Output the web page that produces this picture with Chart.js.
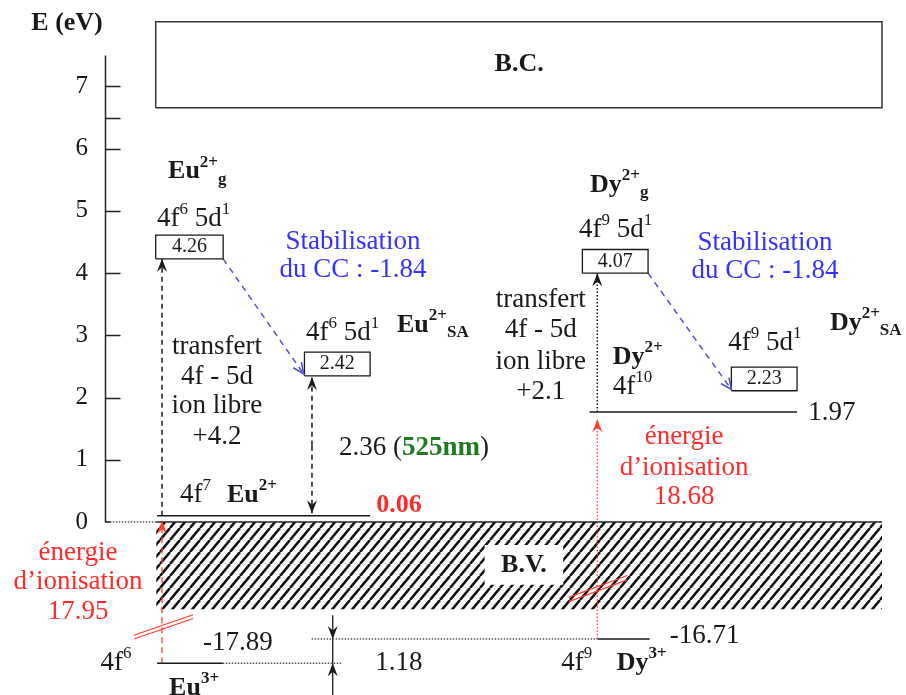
<!DOCTYPE html>
<html>
<head>
<meta charset="utf-8">
<style>
  html, body { margin: 0; padding: 0; background: #fff; }
  #wrap { width: 906px; height: 695px; position: relative; }
</style>
</head>
<body>
<div id="wrap"><canvas id="diagram"></canvas></div>
<script src="https://cdn.jsdelivr.net/npm/chart.js@4.4.1/dist/chart.umd.min.js"></script>
<script>
// energy axis (eV)
const energyTicks = [0, 1, 2, 3, 4, 5, 6, 7];
const minorTicks = [6.5];
const axisTop = 7.5;
const yRange = [-2.78, 8.39];

// levels as placed on the diagram (eV) and the values printed next to them
// index 0 = Eu, index 1 = Dy
const freeIon5d = [4.23, 4.0];
const freeIon5dText = ["4.26", "4.07"];
const site5d = [2.35, 2.11];
const site5dText = ["2.42", "2.23"];
const ground2 = [0.1, 1.77];
const ground2Text = ["0.06", "1.97"];
const ground3 = [-2.27, -1.88];      // broken scale below the valence band
const ground3Text = ["-17.89", "-16.71"];
const gap3Text = "1.18";
const transferText = ["+4.2", "+2.1"];
const ionisationText = ["17.95", "18.68"];
const stabilisationText = ["-1.84", "-1.84"];
const emissionText = ["2.36", "525nm"];
const fConfig = [6, 9];              // 4f^n of R2+ excited / R3+
const cbBand = [6.66, 8.04];
const vbBand = [-1.4, 0];

// ---- layout (x runs 0..100 across the plot) ----
const bandX = [6.4, 97];
const zeroX = 6.5;
const gBoxX = [[6.33, 14.75], [59.6, 67.8]];
const saBoxX = [[24.9, 33.1], [78.2, 86.4]];
const groundX = [[6.5, 33.1], [60.5, 86.4]];
const transferX = [7.12, 61.46];
const emissionX = 25.84;
const gapX = 28.43;
const boxH = 0.38;
const bvBoxX = [47.4, 57.2];
const bvBoxY = [-1.01, -0.37];

const SERIF = "'Liberation Serif', 'Times New Roman', serif";
const ink = "#1a1a1a";
const blue = "#3333ff";
const blueArrow = "#5252d6";
const red = "#ff2b2b";
const redLine = "#ff3d2e";
const green = "#1e7b1e";

function makeHatch() {
  const c = document.createElement("canvas");
  c.width = 10;
  c.height = 12;
  const g = c.getContext("2d");
  g.strokeStyle = "#111";
  g.lineWidth = 2.5;
  [[-10, 12], [0, 12], [10, 12]].forEach(([x, y]) => {
    g.beginPath();
    g.moveTo(x, y);
    g.lineTo(x + 10, y - 12);
    g.stroke();
  });
  return g.createPattern(c, "repeat");
}

const rect = (x0, x1, y0, y1) => [[x0, y0], [x0, y1], [x1, y1], [x1, y0], [x0, y0]];
const mid = a => (a[0] + a[1]) / 2;

const datasets = [];
function addLine(points, opts = {}) {
  datasets.push(Object.assign({
    data: points.map(([x, y]) => ({ x, y })),
    showLine: true,
    pointRadius: 0,
    borderColor: ink,
    borderWidth: 1.5,
    tension: 0,
    fill: false,
    order: 0
  }, opts));
}

// bands
addLine(rect(bandX[0], bandX[1], vbBand[0], vbBand[1]), {
  borderWidth: 0, borderColor: "rgba(0,0,0,0)", backgroundColor: makeHatch(), fill: "shape", order: 3
});
addLine(rect(bvBoxX[0], bvBoxX[1], bvBoxY[0], bvBoxY[1]), {
  borderWidth: 0, borderColor: "rgba(0,0,0,0)", backgroundColor: "#fff", fill: "shape", order: 2
});
addLine([[bandX[0], vbBand[1]], [bandX[1], vbBand[1]]], { borderColor: "#222" });
addLine(rect(bandX[0] - 0.07, bandX[1], cbBand[0], cbBand[1]), { borderColor: "#333" });
addLine([[0.6, 0], [zeroX, 0]], { borderColor: "#555", borderDash: [1.5, 1.5] });

// R2+ levels and 5d boxes
[0, 1].forEach(i => {
  addLine([[groundX[i][0], ground2[i]], [groundX[i][1], ground2[i]]]);
  addLine(rect(gBoxX[i][0], gBoxX[i][1], freeIon5d[i], freeIon5d[i] + boxH), { borderWidth: 1.3 });
  addLine(rect(saBoxX[i][0], saBoxX[i][1], site5d[i], site5d[i] + boxH), { borderWidth: 1.3 });
});

// R3+ levels (broken scale)
addLine([[6.5, ground3[0]], [14.7, ground3[0]]]);
addLine([[14.7, ground3[0]], [29.6, ground3[0]]], { borderColor: "#555", borderDash: [1.5, 1.5] });
addLine([[25.8, ground3[1]], [61.5, ground3[1]]], { borderColor: "#555", borderDash: [1.5, 1.5] });
addLine([[61.5, ground3[1]], [68.0, ground3[1]]]);
addLine([[gapX, ground3[1]], [gapX, ground3[0]]], { borderWidth: 1.3 });

// arrows
const arrows = [
  { from: [transferX[0], ground2[0]], to: [transferX[0], freeIon5d[0]], color: ink, dash: [5, 4] },
  { from: [transferX[1], ground2[1]], to: [transferX[1], freeIon5d[1]], color: ink, dash: [1.5, 2] },
  { from: [gBoxX[0][1], freeIon5d[0]], to: [saBoxX[0][0] - 0.1, site5d[0] + 0.03], color: blueArrow, dash: [6, 5], open: true },
  { from: [gBoxX[1][1], freeIon5d[1]], to: [saBoxX[1][0], site5d[1] + 0.02], color: blueArrow, dash: [6, 5], open: true },
  { from: [transferX[0], ground3[0]], to: [transferX[0], vbBand[1] + 0.02], color: redLine, dash: [6, 4], width: 1.3 },
  { from: [transferX[1], ground3[1]], to: [transferX[1], ground2[1] - 0.12], color: redLine, dash: [1.5, 2], width: 1.3 },
  { from: [emissionX, mid([site5d[0], ground2[0]])], to: [emissionX, site5d[0] - 0.02], color: ink, dash: [5, 4] },
  { from: [emissionX, mid([site5d[0], ground2[0]])], to: [emissionX, ground2[0] + 0.04], color: ink, dash: [5, 4] },
  { from: [gapX, -1.5], to: [gapX, ground3[1]], color: ink, dash: [], width: 1.3 },
  { from: [gapX, yRange[0]], to: [gapX, ground3[0]], color: ink, dash: [], width: 1.3 }
];
arrows.forEach(a => addLine([a.from, a.to], { borderColor: a.color, borderDash: a.dash, borderWidth: a.width || 1.5 }));

// red break marks on the ionisation arrows
[[[3.6, -1.82], [11.0, -1.49]], [[3.6, -1.88], [11.0, -1.55]],
 [[57.9, -1.21], [65.2, -0.86]], [[57.9, -1.28], [65.2, -0.93]]].forEach(seg =>
  addLine(seg, { borderColor: redLine, borderWidth: 1.2 }));

// ---- text ----
const fd = (n, d) => d ? [["4f"], [String(n), "^"], [" 5d"], ["1", "^"]] : [["4f"], [String(n), "^"]];
const ion = (el, charge, sub) => [[el, "b"], [charge, "b^"]].concat(sub ? [[sub, "b_"]] : []);

const texts = [
  { x: -4.74, y: 8.01, align: "center", size: 26, parts: [["E (eV)", "b"]] },
  { x: mid(bandX), y: mid(cbBand), align: "center", size: 26, parts: [["B.C.", "b"]] },
  { x: mid(bvBoxX), y: mid(bvBoxY), align: "center", size: 26, parts: [["B.V.", "b"]] },
  // Eu side
  { x: 7.87, y: 5.63, size: 26, parts: ion("Eu", "2+", "g") },
  { x: 6.49, y: 4.87, parts: fd(fConfig[0], true) },
  { x: 30.97, y: 4.50, align: "center", color: blue, parts: [["Stabilisation"]] },
  { x: 30.97, y: 4.05, align: "center", color: blue, parts: [["du CC : " + stabilisationText[0]]] },
  { x: 13.98, y: 2.81, align: "center", parts: [["transfert"]] },
  { x: 13.98, y: 2.33, align: "center", parts: [["4f - 5d"]] },
  { x: 13.98, y: 1.86, align: "center", parts: [["ion libre"]] },
  { x: 13.98, y: 1.37, align: "center", parts: [[transferText[0]]] },
  { x: 25.09, y: 3.04, parts: fd(fConfig[0], true) },
  { x: 36.45, y: 3.17, size: 26, parts: ion("Eu", "2+", "SA") },
  { x: 29.21, y: 1.19, parts: [[emissionText[0] + " ("], [emissionText[1], "b", green], [")"]] },
  { x: 9.36, y: 0.43, parts: fd(7) },
  { x: 15.23, y: 0.43, size: 26, parts: ion("Eu", "2+") },
  { x: 36.7, y: 0.27, align: "center", size: 26, parts: [[ground2Text[0], "b", red]] },
  { x: -3.37, y: -0.50, align: "center", color: red, parts: [["énergie"]] },
  { x: -3.37, y: -0.96, align: "center", color: red, parts: [["d’ionisation"]] },
  { x: -3.37, y: -1.45, align: "center", color: red, parts: [[ionisationText[0]]] },
  { x: 16.6, y: -1.95, align: "center", parts: [[ground3Text[0]]] },
  { x: 36.7, y: -2.27, align: "center", parts: [[gap3Text]] },
  { x: 1.37, y: -2.27, align: "center", parts: fd(fConfig[0]) },
  { x: 8.0, y: -2.67, size: 26, parts: ion("Eu", "3+") },
  // Dy side
  { x: 60.55, y: 5.42, size: 26, parts: ion("Dy", "2+", "g") },
  { x: 59.18, y: 4.69, parts: fd(fConfig[1], true) },
  { x: 82.4, y: 4.49, align: "center", color: blue, parts: [["Stabilisation"]] },
  { x: 82.4, y: 4.04, align: "center", color: blue, parts: [["du CC : " + stabilisationText[1]]] },
  { x: 54.4, y: 3.57, align: "center", parts: [["transfert"]] },
  { x: 54.4, y: 3.09, align: "center", parts: [["4f - 5d"]] },
  { x: 54.4, y: 2.57, align: "center", parts: [["ion libre"]] },
  { x: 54.4, y: 2.09, align: "center", parts: [[transferText[1]]] },
  { x: 63.4, y: 2.65, size: 26, parts: ion("Dy", "2+") },
  { x: 63.4, y: 2.17, parts: fd(10) },
  { x: 77.8, y: 2.88, parts: fd(fConfig[1], true) },
  { x: 90.5, y: 3.2, size: 26, parts: ion("Dy", "2+", "SA") },
  { x: 87.8, y: 1.75, parts: [[ground2Text[1]]] },
  { x: 72.3, y: 1.37, align: "center", color: red, parts: [["énergie"]] },
  { x: 72.3, y: 0.87, align: "center", color: red, parts: [["d’ionisation"]] },
  { x: 72.3, y: 0.40, align: "center", color: red, parts: [[ionisationText[1]]] },
  { x: 70.5, y: -1.83, parts: [[ground3Text[1]]] },
  { x: 58.9, y: -2.27, align: "center", parts: fd(fConfig[1]) },
  { x: 63.9, y: -2.27, size: 26, parts: ion("Dy", "3+") }
];
// values inside the 5d boxes
[0, 1].forEach(i => {
  texts.push({ x: mid(gBoxX[i]), y: freeIon5d[i] + boxH / 2, align: "center", size: 20, parts: [[freeIon5dText[i]]] });
  texts.push({ x: mid(saBoxX[i]), y: site5d[i] + boxH / 2, align: "center", size: 20, parts: [[site5dText[i]]] });
});

function drawRich(ctx, px, py, item) {
  const size = item.size || 27;
  const parts = item.parts.map(([t, flags = "", color]) => {
    const small = flags.includes("^") || flags.includes("_");
    const font = (flags.includes("b") ? "bold " : "") + Math.round(small ? size * 0.64 : size) + "px " + SERIF;
    ctx.font = font;
    const dy = flags.includes("^") ? -size * 0.36 : flags.includes("_") ? size * 0.3 : 0;
    return { t, font, color, dy, w: ctx.measureText(t).width };
  });
  const total = parts.reduce((s, p) => s + p.w, 0);
  let x = item.align === "center" ? px - total / 2 : px;
  ctx.textAlign = "left";
  ctx.textBaseline = "middle";
  parts.forEach(p => {
    ctx.font = p.font;
    ctx.fillStyle = p.color || item.color || ink;
    ctx.fillText(p.t, x, py + p.dy);
    x += p.w;
  });
}

function drawHead(ctx, tip, tail, a) {
  const ang = Math.atan2(tip.y - tail.y, tip.x - tail.x);
  ctx.save();
  ctx.translate(tip.x, tip.y);
  ctx.rotate(ang);
  ctx.setLineDash([]);
  ctx.fillStyle = a.color;
  ctx.strokeStyle = a.color;
  ctx.beginPath();
  if (a.open) {
    ctx.lineWidth = 1.6;
    ctx.moveTo(-11, -5);
    ctx.lineTo(0, 0);
    ctx.lineTo(-11, 5);
    ctx.stroke();
  } else {
    ctx.moveTo(0, 0);
    ctx.lineTo(-13, -5);
    ctx.lineTo(-8.5, 0);
    ctx.lineTo(-13, 5);
    ctx.closePath();
    ctx.fill();
  }
  ctx.restore();
}

const overlay = {
  id: "overlay",
  afterDraw(chart) {
    const { ctx, chartArea, scales: { x, y } } = chart;
    const px = v => x.getPixelForValue(v);
    const py = v => y.getPixelForValue(v);
    ctx.save();
    // energy axis with ticks on the inside
    const x0 = chartArea.left + 0.5;
    ctx.strokeStyle = "#222";
    ctx.lineWidth = 1.5;
    ctx.beginPath();
    ctx.moveTo(x0, py(axisTop));
    ctx.lineTo(x0, py(0));
    ctx.lineTo(x0 + 5, py(0));
    energyTicks.concat(minorTicks).filter(v => v > 0).forEach(v => {
      ctx.moveTo(x0, Math.round(py(v)) + 0.5);
      ctx.lineTo(x0 + 15, Math.round(py(v)) + 0.5);
    });
    ctx.stroke();
    arrows.forEach(a => drawHead(ctx,
      { x: px(a.to[0]), y: py(a.to[1]) },
      { x: px(a.from[0]), y: py(a.from[1]) }, a));
    texts.forEach(t => drawRich(ctx, px(t.x), py(t.y), t));
    ctx.restore();
  }
};

new Chart(document.getElementById("diagram"), {
  type: "scatter",
  data: { datasets },
  options: {
    responsive: true,
    maintainAspectRatio: false,
    animation: false,
    events: [],
    layout: { padding: 0, autoPadding: false },
    plugins: {
      legend: { display: false },
      tooltip: { enabled: false }
    },
    scales: {
      x: { type: "linear", min: 0, max: 100, display: false },
      y: {
        type: "linear",
        position: "left",
        min: yRange[0],
        max: yRange[1],
        afterBuildTicks: scale => { scale.ticks = energyTicks.map(value => ({ value })); },
        afterFit: scale => { scale.width = 105; scale.paddingTop = 0; scale.paddingBottom = 0; },
        grid: { display: false, drawTicks: false, tickLength: 0 },
        border: { display: false },
        ticks: { color: ink, padding: 17, font: { family: SERIF, size: 25 } }
      }
    }
  },
  plugins: [overlay]
});
</script>
</body>
</html>
